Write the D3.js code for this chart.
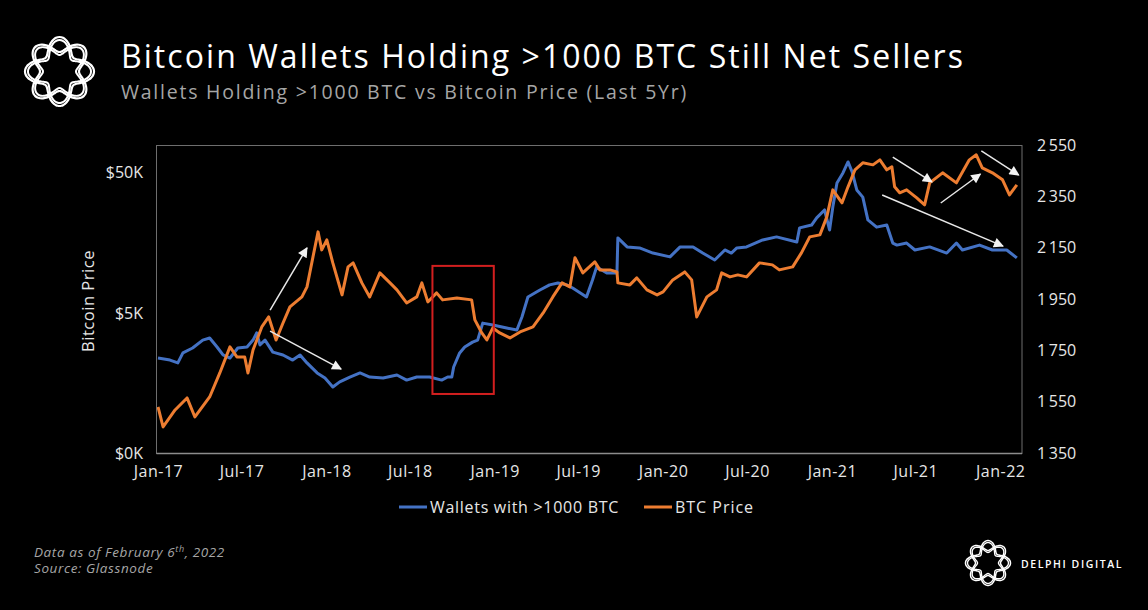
<!DOCTYPE html>
<html><head><meta charset="utf-8">
<script src="https://cdn.jsdelivr.net/npm/d3@7"></script>
<style>html,body{margin:0;background:#000;} svg{display:block}</style>
</head><body><svg id="c" width="1148" height="610"></svg>
<script>
// ---------------- DATA ----------------
const priceDates = ["2017-01-01","2017-01-12","2017-02-07","2017-03-05","2017-03-22","2017-04-23","2017-05-15","2017-06-06","2017-06-21","2017-07-08","2017-07-15","2017-07-26","2017-08-14","2017-08-29","2017-09-14","2017-09-29","2017-10-14","2017-11-09","2017-11-20","2017-12-03","2017-12-14","2017-12-22","2018-01-02","2018-01-15","2018-02-04","2018-02-17","2018-02-28","2018-03-19","2018-04-05","2018-04-27","2018-05-19","2018-06-03","2018-06-24","2018-07-16","2018-07-27","2018-08-09","2018-08-28","2018-09-10","2018-10-11","2018-11-12","2018-11-19","2018-12-04","2018-12-15","2018-12-28","2019-01-12","2019-02-03","2019-02-25","2019-03-25","2019-04-16","2019-05-07","2019-05-27","2019-06-13","2019-06-24","2019-07-11","2019-08-06","2019-08-17","2019-09-08","2019-09-23","2019-09-25","2019-10-21","2019-11-05","2019-11-27","2019-12-19","2020-01-01","2020-01-22","2020-02-17","2020-03-03","2020-03-14","2020-04-05","2020-04-26","2020-05-07","2020-05-25","2020-06-11","2020-06-30","2020-07-28","2020-08-25","2020-09-09","2020-10-08","2020-10-27","2020-11-14","2020-12-06","2020-12-21","2021-01-03","2021-01-23","2021-02-05","2021-02-20","2021-03-09","2021-03-31","2021-04-15","2021-04-30","2021-05-11","2021-05-17","2021-05-28","2021-06-12","2021-07-04","2021-07-21","2021-08-01","2021-08-29","2021-09-28","2021-10-26","2021-11-10","2021-11-23","2021-12-15","2022-01-06","2022-01-21","2022-02-06"];
const priceValues = [1066,767,1014,1236,904,1256,1864,2860,2425,2425,1864,2720,3970,4680,3206,4240,5520,6505,7670,12560,18950,14090,16610,11380,6724,10660,11380,8190,6505,9655,8190,7300,5893,6505,8190,5990,6950,6195,6400,6195,4457,3598,3206,3906,3598,3314,3658,3970,5000,6505,8190,7670,12400,9655,11570,10140,10140,9815,8190,7924,8890,7300,6724,7063,8605,9815,8605,4680,6505,7300,9655,9036,9340,9036,11380,11010,10140,10660,13415,17450,18040,24250,37800,30530,39720,52540,58960,57000,61900,52540,55200,39720,35990,37800,33140,29540,42410,50000,42410,61900,67240,54300,50000,44570,34820,41040];

const walletDates = ["2017-01-01","2017-01-27","2017-02-13","2017-02-24","2017-03-17","2017-04-08","2017-04-23","2017-05-09","2017-05-22","2017-06-06","2017-06-23","2017-07-13","2017-07-26","2017-08-03","2017-08-10","2017-08-21","2017-09-07","2017-09-29","2017-10-20","2017-11-05","2017-11-20","2017-12-12","2017-12-29","2018-01-15","2018-01-30","2018-02-21","2018-03-15","2018-04-05","2018-05-04","2018-06-03","2018-06-24","2018-07-16","2018-08-13","2018-09-08","2018-09-21","2018-09-30","2018-10-04","2018-10-17","2018-10-28","2018-11-14","2018-11-25","2018-12-06","2018-12-28","2019-01-27","2019-02-18","2019-03-01","2019-03-14","2019-04-09","2019-04-30","2019-05-18","2019-06-06","2019-06-19","2019-07-19","2019-08-01","2019-08-10","2019-09-01","2019-09-23","2019-09-25","2019-10-15","2019-11-11","2019-12-10","2020-01-16","2020-02-07","2020-03-06","2020-03-27","2020-04-22","2020-05-14","2020-05-28","2020-06-09","2020-06-30","2020-08-04","2020-09-03","2020-10-17","2020-10-23","2020-11-18","2020-11-29","2020-12-16","2020-12-27","2021-01-03","2021-01-12","2021-01-25","2021-02-05","2021-02-14","2021-02-20","2021-02-24","2021-03-09","2021-03-20","2021-04-08","2021-04-30","2021-05-13","2021-05-22","2021-06-12","2021-06-30","2021-08-01","2021-09-07","2021-09-28","2021-10-11","2021-11-17","2021-12-15","2022-01-15","2022-02-06"];
const walletValues = [1720,1712,1701,1740,1759,1790,1798,1763,1732,1720,1759,1763,1790,1818,1771,1790,1743,1732,1712,1732,1701,1662,1642,1607,1627,1646,1662,1646,1642,1654,1634,1646,1646,1634,1646,1646,1685,1740,1763,1782,1790,1856,1849,1837,1829,1880,1958,1985,2005,2012,2005,1993,1958,2024,2075,2051,2051,2188,2153,2149,2129,2114,2153,2153,2129,2102,2141,2129,2149,2153,2180,2192,2172,2227,2238,2266,2297,2219,2308,2402,2441,2484,2445,2402,2375,2347,2258,2230,2238,2168,2160,2168,2141,2153,2129,2168,2141,2160,2141,2141,2110];

const xTickDates = ["2017-01-01","2017-07-01","2018-01-01","2018-07-01","2019-01-01","2019-07-01","2020-01-01","2020-07-01","2021-01-01","2021-07-01","2022-01-01"];
const xTickLabels = ["Jan-17","Jul-17","Jan-18","Jul-18","Jan-19","Jul-19","Jan-20","Jul-20","Jan-21","Jul-21","Jan-22"];
const leftTickValues = [500, 5000, 50000];
const leftTickLabels = ["$0K", "$5K", "$50K"];
const rightTickValues = [1350, 1550, 1750, 1950, 2150, 2350, 2550];
const rightTickLabels = ["1\u2009350","1\u2009550","1\u2009750","1\u2009950","2\u2009150","2\u2009350","2\u2009550"];

// annotation arrows, in (date, right-axis value)
const arrowFrom = [["2017-09-01",1907],["2017-09-01",1825],["2021-05-13",2503],["2021-04-20",2355],["2021-08-25",2324],["2021-11-21",2527]];
const arrowTo   = [["2017-11-20",2149],["2018-02-02",1677],["2021-08-06",2406],["2022-01-07",2156],["2021-11-19",2437],["2022-02-10",2433]];
const boxDates = ["2018-08-19","2018-12-30"];
const boxValues = [1580, 2079];

const seriesNames = ["Wallets with >1000 BTC", "BTC Price"];
const seriesColors = ["#4472C4", "#ED7D31"];

// ---------------- LAYOUT ----------------
const FONT = "'Open Sans', Lato, sans-serif";
const svg = d3.select("#c");
const W = 1148, H = 610;
svg.append("rect").attr("width", W).attr("height", H).attr("fill", "#000");
const plot = {l: 158, r: 1021, t: 145, b: 453};
const parse = d3.utcParse("%Y-%m-%d");

const x = d3.scaleUtc().domain([parse("2017-01-01"), parse("2022-02-15")]).range([plot.l, plot.r]);
const yL = d3.scaleLog().domain([500, 79000]).range([plot.b, plot.t]);
const yR = d3.scaleLinear().domain([1350, 2550]).range([plot.b, plot.t]);

function spread(sel, w) {
  const cur = sel.node().getComputedTextLength();
  const n = sel.text().length;
  sel.style("letter-spacing", ((w - cur) / n) + "px");
}

// frame
svg.append("rect").attr("x", plot.l - 1.5).attr("y", plot.t + 0.5)
  .attr("width", plot.r - plot.l + 2.5).attr("height", plot.b - plot.t)
  .attr("fill", "none").attr("stroke", "#6e6e6e").attr("stroke-width", 1);
svg.append("line").attr("x1", plot.l - 1.5).attr("x2", plot.r + 1).attr("y1", plot.b + 0.5).attr("y2", plot.b + 0.5)
  .attr("stroke", "#8c8c8c").attr("stroke-width", 1.5);

// axes
const axL = d3.axisLeft(yL).tickValues(leftTickValues).tickFormat((d, i) => leftTickLabels[i]).tickSize(0).tickPadding(15);
const gL = svg.append("g").attr("transform", `translate(${plot.l},0)`).call(axL);
const axR = d3.axisRight(yR).tickValues(rightTickValues).tickFormat((d, i) => rightTickLabels[i]).tickSize(0).tickPadding(16);
const gR = svg.append("g").attr("transform", `translate(${plot.r},0)`).call(axR);
const axB = d3.axisBottom(x).tickValues(xTickDates.map(parse)).tickFormat((d, i) => xTickLabels[i]).tickSize(0).tickPadding(13);
const gB = svg.append("g").attr("transform", `translate(0,${plot.b})`).call(axB);
[gL, gR, gB].forEach(g => {
  g.select(".domain").remove();
  g.selectAll("text").attr("fill", "#e6e6e6").style("font-family", FONT).style("font-size", "16px");
});
gB.selectAll("text").style("letter-spacing", "0.5px");

const ylab = svg.append("text").attr("transform", `translate(94,${(plot.t + plot.b) / 2 + 2}) rotate(-90)`)
  .attr("text-anchor", "middle").attr("fill", "#e6e6e6").style("font-family", FONT).style("font-size", "16.5px")
  .text("Bitcoin Price");
spread(ylab, 102);

// series
svg.append("clipPath").attr("id", "pc").append("rect")
  .attr("x", plot.l - 1).attr("y", plot.t).attr("width", plot.r - plot.l + 2).attr("height", plot.b - plot.t);
const lineR = d3.line().x((d, i) => x(parse(walletDates[i]))).y(d => yR(d));
const lineL = d3.line().x((d, i) => x(parse(priceDates[i]))).y(d => yL(d));
svg.append("path").datum(walletValues).attr("d", lineR).attr("fill", "none")
  .attr("stroke", seriesColors[0]).attr("stroke-width", 3).attr("stroke-linejoin", "round").attr("clip-path", "url(#pc)");
svg.append("path").datum(priceValues).attr("d", lineL).attr("fill", "none")
  .attr("stroke", seriesColors[1]).attr("stroke-width", 3).attr("stroke-linejoin", "round").attr("clip-path", "url(#pc)");

// highlight box
svg.append("rect")
  .attr("x", x(parse(boxDates[0]))).attr("y", yR(boxValues[1]))
  .attr("width", x(parse(boxDates[1])) - x(parse(boxDates[0])))
  .attr("height", yR(boxValues[0]) - yR(boxValues[1]))
  .attr("fill", "none").attr("stroke", "#d21f1f").attr("stroke-width", 2);

// arrows
const defs = svg.append("defs");
defs.append("marker").attr("id", "ah").attr("viewBox", "0 0 10 10").attr("refX", 9).attr("refY", 5)
  .attr("markerWidth", 12).attr("markerHeight", 10).attr("markerUnits", "userSpaceOnUse").attr("orient", "auto")
  .append("path").attr("d", "M0,0 L10,5 L0,10 Z").attr("fill", "#f2f2f2");
arrowFrom.forEach((f, i) => {
  const t = arrowTo[i];
  svg.append("line")
    .attr("x1", x(parse(f[0]))).attr("y1", yR(f[1]))
    .attr("x2", x(parse(t[0]))).attr("y2", yR(t[1]))
    .attr("stroke", "#e8e8e8").attr("stroke-width", 1.5).attr("marker-end", "url(#ah)");
});

// legend
const leg = svg.append("g").style("font-family", FONT).style("font-size", "16px");
const legItems = [{x: 399, color: seriesColors[0], name: seriesNames[0], w: 189}, {x: 644, color: seriesColors[1], name: seriesNames[1], w: 79}];
legItems.forEach(it => {
  leg.append("line").attr("x1", it.x).attr("x2", it.x + 28).attr("y1", 507).attr("y2", 507)
    .attr("stroke", it.color).attr("stroke-width", 3);
  const t = leg.append("text").attr("x", it.x + 31).attr("y", 512.5).attr("fill", "#e6e6e6").text(it.name);
  spread(t, it.w);
});

// title
const title = svg.append("text").attr("x", 121).attr("y", 68).attr("fill", "#ffffff")
  .style("font-family", FONT).style("font-size", "32px").style("font-weight", 500)
  .text("Bitcoin Wallets Holding >1000 BTC Still Net Sellers");
spread(title, 844);
const sub = svg.append("text").attr("x", 121).attr("y", 98.5).attr("fill", "#a6a6a6")
  .style("font-family", FONT).style("font-size", "19.5px")
  .text("Wallets Holding >1000 BTC vs Bitcoin Price (Last 5Yr)");
spread(sub, 567);

// footer
const foot = svg.append("g").style("font-family", FONT).style("font-size", "13.5px").style("font-style", "italic").attr("fill", "#a6a6a6");
const f1 = foot.append("text").attr("x", 34).attr("y", 557).style("letter-spacing", "0.6px");
f1.append("tspan").text("Data as of February 6");
f1.append("tspan").attr("dy", -5).style("font-size", "9px").text("th");
f1.append("tspan").attr("dy", 5).text(", 2022");
foot.append("text").attr("x", 34).attr("y", 573).style("letter-spacing", "0.6px").text("Source: Glassnode");

// logos
function logo(cx, cy, R, a, sw) {
  const g = svg.append("g").attr("transform", `translate(${cx},${cy})`);
  [0, Math.PI].forEach(ph => {
    [0, -3 * sw / 2.2].forEach(off => {
      const pts = d3.range(0, 360, 3).map(deg => {
        const th = deg * Math.PI / 180;
        const r = R + off + a * Math.sin(4 * th + ph + Math.PI / 2);
        return [r * Math.cos(th), r * Math.sin(th)];
      });
      g.append("path").attr("d", d3.line().curve(d3.curveCardinalClosed)(pts))
        .attr("fill", "none").attr("stroke", "#fff").attr("stroke-width", off ? sw * 0.9 : sw);
    });
  });
}
logo(59.5, 71.5, 27, 7.5, 2.2);
logo(988, 563, 17.5, 5, 1.5);
const brand = svg.append("text").attr("x", 1021).attr("y", 567.5).attr("fill", "#fff")
  .style("font-family", FONT).style("font-size", "10.5px").style("font-weight", 600)
  .text("DELPHI DIGITAL");
spread(brand, 102);
</script></body></html>
